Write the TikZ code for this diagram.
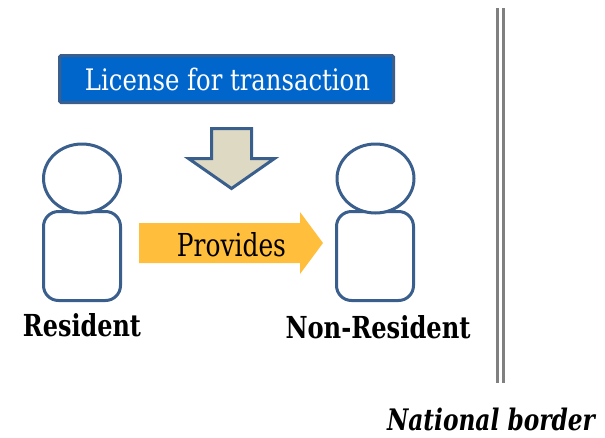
\documentclass[tikz,border=0pt]{standalone}
\usepackage{fontspec}
\setmainfont{DejaVu Serif Condensed}
\usetikzlibrary{shapes.geometric}
\definecolor{outl}{RGB}{58,95,140}
\definecolor{boxblue}{RGB}{0,102,204}
\definecolor{arrtan}{RGB}{221,217,195}
\definecolor{arrorange}{RGB}{255,190,60}
\definecolor{bordergray}{RGB}{128,128,128}
\newcommand{\fitwh}[3]{\resizebox{#1}{#2}{#3}}
\tikzset{
  personbody/.style={draw=outl, line width=3pt, fill=white, rounded corners=15pt, rectangle, minimum width=77pt, minimum height=89pt, inner sep=0pt},
  personhead/.style={draw=outl, line width=3pt, fill=white, ellipse, minimum width=77pt, minimum height=69pt, inner sep=0pt},
  lbl/.style={inner sep=0pt, anchor=base, text=black},
  borderline/.style={draw=bordergray, line width=3pt}
}
\begin{document}
\begin{tikzpicture}[x=1pt,y=-1pt]
\useasboundingbox (0,0) rectangle (605,437);
% license box
\node[draw=outl, line width=3pt, fill=boxblue, rounded corners=1.5pt, minimum width=334pt, minimum height=47pt, inner sep=0pt] (lic) at (226.5,79) {};
\node[lbl, text=white] (lictext) at (227.5,90) {\fitwh{285pt}{22.5pt}{License for transaction}};
% down arrow
\draw[draw=outl, line width=3pt, fill=arrtan, line join=miter]
  (211.5,128.5) -- (251.5,128.5) -- (251.5,158.5) -- (274.5,158.5) -- (231.5,188.5) -- (188.5,158.5) -- (211.5,158.5) -- cycle;
% persons
\node[personbody] (rbody) at (82,256) {};
\node[personhead] (rhead) at (82,178.5) {};
\node[personbody] (nbody) at (375,256) {};
\node[personhead] (nhead) at (375.5,178.5) {};
% provides arrow
\fill[arrorange] (139,223) -- (300,223) -- (300,212) -- (323,243) -- (300,274) -- (300,263) -- (139,263) -- cycle;
\node[lbl] (prov) at (231.5,256) {\fitwh{109pt}{24pt}{Provides}};
% labels
\node[lbl] (res) at (82,336) {\fitwh{118pt}{23pt}{\bfseries Resident}};
\node[lbl] (nonres) at (378,338) {\fitwh{185pt}{23pt}{\bfseries Non-Resident}};
% national border
\coordinate (b1t) at (497.5,8);
\coordinate (b1b) at (497.5,383);
\coordinate (b2t) at (503.5,8);
\coordinate (b2b) at (503.5,383);
\draw[borderline] (b1t) -- (b1b);
\draw[borderline] (b2t) -- (b2b);
\node[lbl] (nat) at (491,430.5) {\fitwh{208pt}{22.5pt}{\bfseries\itshape National border}};
\end{tikzpicture}
\end{document}
